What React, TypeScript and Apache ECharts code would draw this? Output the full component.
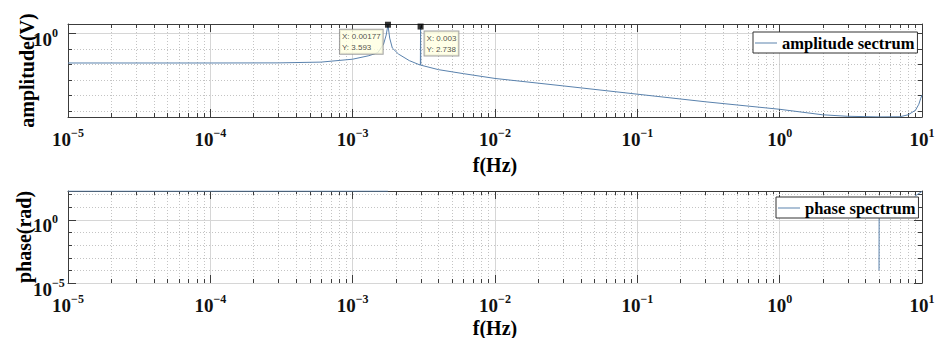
import React, { useEffect, useRef } from 'react';
import * as echarts from 'echarts';

// ---- data ----
const ampFreq = [1e-5, 1e-4, 3e-4, 6e-4, 1e-3, 1.3e-3, 1.5e-3, 1.65e-3, 1.72e-3, 1.77e-3, 1.82e-3, 1.9e-3, 2.1e-3, 2.5e-3, 2.99e-3, 3e-3, 3.01e-3, 4e-3, 6e-3, 1e-2, 3e-2, 0.1, 0.3, 1, 2, 3, 5, 7, 8, 9, 9.5, 9.8, 10];
const ampValue = [0.012, 0.012, 0.0122, 0.0137, 0.0211, 0.0356, 0.055, 0.202, 0.776, 3.593, 0.495, 0.111, 0.0453, 0.0171, 0.0087, 2.738, 0.0087, 0.00446, 0.00245, 0.0012, 0.000397, 0.000115, 3.72e-5, 1.21e-5, 5.35e-6, 4.27e-6, 3.9e-6, 3.98e-6, 5.35e-6, 1.05e-5, 2.57e-5, 6.3e-5, 1e-4];

const phaseFreq = [1e-5, 1e-4, 1e-3, 1.77e-3, 1.78e-3, 4.99, 5, 5.01, 8.9, 10];
const phaseValue: (number | null)[] = [180, 180, 180, 180, null, 1e-4, 2, null, 70, 170];

const tipX = [0.00177, 0.003];
const tipY = [3.593, 2.738];

const xTickExponents = [-5, -4, -3, -2, -1, 0, 1];
const ampLabelExponents = [0];
const phaseLabelExponents = [-5, 0];
const ampDecades = [1e-5, 1e-4, 1e-3, 1e-2, 1e-1, 1e0];
const phaseDecades = [1e-5, 1e-4, 1e-3, 1e-2, 1e-1, 1e0, 1e1, 1e2];

const X_MIN = 1e-5;
const X_MAX = 10;
const AMP_MIN = 3.84e-6;
const AMP_MAX = 4.0;
const PH_MIN = 1e-5;
const PH_MAX = 182;

const SERIF = "'Liberation Serif', 'Times New Roman', serif";
const SANS = "'Liberation Sans', Arial, sans-serif";
const AXIS_COLOR = '#3c3c3c';
const MAJOR_GRID = '#d6d6d6';
const MINOR_GRID = '#c4c4c4';
const LINE_COLOR = '#5a82ad';

const xMinor: number[] = [];
for (let k = -5; k <= 0; k++) {
  for (let m = 2; m <= 9; m++) xMinor.push(Number((m * Math.pow(10, k)).toPrecision(6)));
}

const rich = {
  b: { fontFamily: SERIF, fontWeight: 'bold', fontSize: 19, lineHeight: 22, color: '#111', verticalAlign: 'bottom' },
  s: { fontFamily: SERIF, fontWeight: 'bold', fontSize: 12, lineHeight: 12, color: '#111', verticalAlign: 'top' },
};

function expLabel(v: number, allowed: number[]) {
  const l = Math.log10(v);
  const e = Math.round(l);
  if (Math.abs(l - e) > 1e-6 || allowed.indexOf(e) < 0) return '';
  return `{b|10}{s|${e < 0 ? '\u2212' + -e : e}}`;
}

const snap = (v: number) => Math.round(v) + 0.5;

function xAxisPair(grid: number, yName: string, nameGap: number) {
  const common = { type: 'log', logBase: 10, min: X_MIN, max: X_MAX, gridIndex: grid };
  return [
    {
      ...common,
      position: 'bottom',
      name: yName,
      nameLocation: 'middle',
      nameGap,
      nameMoveOverlap: false,
      nameTextStyle: { fontFamily: SERIF, fontWeight: 'bold', fontSize: 20, lineHeight: 20, color: '#000' },
      axisLine: { show: true, lineStyle: { color: AXIS_COLOR, width: 1 } },
      axisTick: { show: true, inside: true, length: 8, lineStyle: { color: AXIS_COLOR } },
      axisLabel: {
        show: true,
        margin: 10,
        showMinLabel: true,
        showMaxLabel: true,
        hideOverlap: false,
        formatter: (v: number) => expLabel(v, xTickExponents),
        rich,
      },
      splitLine: { show: true, lineStyle: { color: MAJOR_GRID, width: 1 } },
    },
    {
      ...common,
      position: 'top',
      axisLine: { show: true, lineStyle: { color: AXIS_COLOR, width: 1 } },
      axisTick: { show: true, inside: true, length: 8, lineStyle: { color: AXIS_COLOR } },
      axisLabel: { show: false },
      splitLine: { show: false },
    },
  ];
}

function yAxisPair(grid: number, min: number, max: number, name: string, nameGap: number, labels: number[]) {
  const common = { type: 'log', logBase: 10, min, max, gridIndex: grid };
  return [
    {
      ...common,
      position: 'left',
      name,
      nameLocation: 'middle',
      nameGap,
      nameMoveOverlap: false,
      nameTextStyle: { fontFamily: SERIF, fontWeight: 'bold', fontSize: 20, lineHeight: 20, color: '#000' },
      axisLine: { show: true, lineStyle: { color: AXIS_COLOR, width: 1 } },
      axisTick: { show: false },
      axisLabel: {
        show: true,
        align: 'left',
        margin: 35,
        padding: [9, 0, 0, 0],
        showMinLabel: true,
        showMaxLabel: true,
        hideOverlap: false,
        formatter: (v: number) => expLabel(v, labels),
        rich,
      },
      splitLine: { show: false },
    },
    {
      ...common,
      position: 'right',
      axisLine: { show: true, lineStyle: { color: AXIS_COLOR, width: 1 } },
      axisTick: { show: false },
      axisLabel: { show: false },
      splitLine: { show: false },
    },
  ];
}

function xMinorSeries(xIdx: number, yIdx: number, yMin: number, yMax: number) {
  return {
    type: 'custom',
    xAxisIndex: xIdx,
    yAxisIndex: yIdx,
    z: 1,
    silent: true,
    clip: false,
    encode: { x: 0, y: 1 },
    data: xMinor.map((v) => [v, yMin]),
    renderItem: (_p: any, api: any) => {
      const v = api.value(0);
      const b = api.coord([v, yMin]);
      const t = api.coord([v, yMax]);
      const x = snap(b[0]);
      const yb = Math.round(b[1]);
      const yt = Math.round(t[1]);
      return {
        type: 'group',
        children: [
          { type: 'line', shape: { x1: x, y1: yb, x2: x, y2: yt }, style: { stroke: MINOR_GRID, lineWidth: 1, lineDash: [1, 2] } },
          { type: 'line', shape: { x1: x, y1: yb, x2: x, y2: yb - 4 }, style: { stroke: AXIS_COLOR, lineWidth: 1 } },
          { type: 'line', shape: { x1: x, y1: yt, x2: x, y2: yt + 4 }, style: { stroke: AXIS_COLOR, lineWidth: 1 } },
        ],
      };
    },
  };
}

function yDecadeSeries(xIdx: number, yIdx: number, decades: number[], majors: number[]) {
  return {
    type: 'custom',
    xAxisIndex: xIdx,
    yAxisIndex: yIdx,
    z: 1,
    silent: true,
    clip: false,
    encode: { x: 0, y: 1 },
    data: decades.map((d) => [1, d]),
    renderItem: (_p: any, api: any) => {
      const v = api.value(1);
      const l = api.coord([X_MIN, v]);
      const r = api.coord([X_MAX, v]);
      const e = Math.round(Math.log10(v));
      const major = majors.indexOf(e) >= 0;
      const len = major ? 8 : 4;
      const y = snap(l[1]);
      const xl = Math.round(l[0]);
      const xr = Math.round(r[0]);
      return {
        type: 'group',
        children: [
          {
            type: 'line',
            shape: { x1: xl, y1: y, x2: xr, y2: y },
            style: major
              ? { stroke: MAJOR_GRID, lineWidth: 1 }
              : { stroke: MINOR_GRID, lineWidth: 1, lineDash: [1, 2] },
          },
          { type: 'line', shape: { x1: xl, y1: y, x2: xl + len, y2: y }, style: { stroke: AXIS_COLOR, lineWidth: 1 } },
          { type: 'line', shape: { x1: xr, y1: y, x2: xr - len, y2: y }, style: { stroke: AXIS_COLOR, lineWidth: 1 } },
        ],
      };
    },
  };
}

const legendBase = {
  orient: 'horizontal',
  padding: [2, 3, 1, 2],
  itemWidth: 22,
  itemHeight: 1,
  itemGap: 0,
  icon: 'rect',
  borderColor: '#333',
  borderWidth: 1,
  borderRadius: 0,
  backgroundColor: '#fff',
  selectedMode: false,
  textStyle: { fontFamily: SERIF, fontWeight: 'bold', fontSize: 16.5, color: '#000', lineHeight: 18 },
};

export default function App() {
  const ref = useRef<HTMLDivElement>(null);
  useEffect(() => {
    if (!ref.current) return;
    const chart = echarts.init(ref.current, undefined, { renderer: 'svg' });
    const tipLabels = [
      { position: [-45, 8], align: 'left', verticalAlign: 'top' },
      { position: [7, 8], align: 'left', verticalAlign: 'top' },
    ];
    chart.setOption({
      animation: false,
      backgroundColor: '#fff',
      grid: [
        { left: 68, right: 13, top: 24, height: 93, outerBoundsMode: 'none', containLabel: false },
        { left: 68, right: 13, top: 191, height: 92, outerBoundsMode: 'none', containLabel: false },
      ],
      legend: [
        { ...legendBase, data: ['amplitude sectrum'], left: 753, top: 32 },
        { ...legendBase, data: ['phase spectrum'], left: 776, top: 197 },
      ],
      xAxis: [...xAxisPair(0, 'f(Hz)', 38), ...xAxisPair(1, 'f(Hz)', 35)],
      yAxis: [
        ...yAxisPair(0, AMP_MIN, AMP_MAX, 'amplitude(V)', 31, ampLabelExponents),
        ...yAxisPair(1, PH_MIN, PH_MAX, 'phase(rad)', 34, phaseLabelExponents),
      ],
      series: [
        xMinorSeries(0, 0, AMP_MIN, AMP_MAX),
        yDecadeSeries(0, 0, ampDecades, ampLabelExponents),
        xMinorSeries(2, 2, PH_MIN, PH_MAX),
        yDecadeSeries(2, 2, phaseDecades, phaseLabelExponents),
        {
          name: 'amplitude sectrum',
          type: 'line',
          xAxisIndex: 0,
          yAxisIndex: 0,
          symbol: 'none',
          showSymbol: false,
          z: 3,
          lineStyle: { color: LINE_COLOR, width: 1 },
          itemStyle: { color: LINE_COLOR },
          data: ampFreq.map((f, i) => [f, ampValue[i]]),
        },
        {
          name: 'phase spectrum',
          type: 'line',
          xAxisIndex: 2,
          yAxisIndex: 2,
          symbol: 'none',
          showSymbol: false,
          connectNulls: false,
          z: 3,
          lineStyle: { color: LINE_COLOR, width: 1 },
          itemStyle: { color: LINE_COLOR },
          data: phaseFreq.map((f, i) => [f, phaseValue[i]]),
        },
        {
          name: 'datatips',
          type: 'scatter',
          xAxisIndex: 0,
          yAxisIndex: 0,
          symbol: 'rect',
          symbolSize: 6,
          z: 10,
          itemStyle: { color: '#000' },
          label: {
            show: true,
            formatter: (p: any) => `X: ${p.value[0]}\nY: ${p.value[1]}`,
            fontFamily: SANS,
            fontSize: 8,
            lineHeight: 11,
            color: '#222',
            backgroundColor: '#ffffe1',
            borderColor: '#8c8c8c',
            borderWidth: 1,
            padding: [1, 2, 1, 2],
          },
          data: tipX.map((x, i) => ({ value: [x, tipY[i]], label: tipLabels[i] })),
        },
      ],
    });
    return () => chart.dispose();
  }, []);
  return (
    <div
      ref={ref}
      style={{ position: 'fixed', left: 0, top: 0, width: 935, height: 338, background: '#fff' }}
    />
  );
}
